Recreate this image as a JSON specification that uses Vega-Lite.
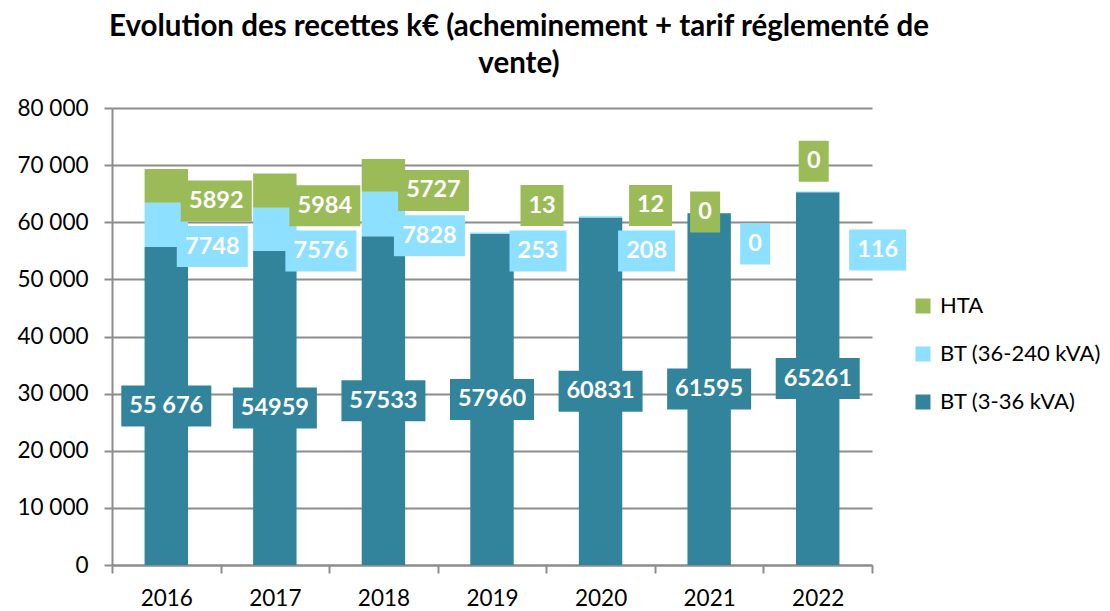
{
  "$schema": "https://vega.github.io/schema/vega-lite/v6.json",
  "autosize": {"type": "none"},
  "width": 760,
  "height": 457,
  "padding": {"left": 112, "top": 108, "right": 238, "bottom": 46},
  "background": "white",
  "title": {
    "text": ["Evolution des recettes k€ (acheminement + tarif réglementé de", "vente)"],
    "font": "Lato",
    "fontSize": 29.5,
    "fontWeight": "bold",
    "color": "#000000",
    "lineHeight": 37,
    "anchor": "middle",
    "dx": 27,
    "offset": 18
  },
  "config": {
    "view": {"stroke": null},
    "font": "Lato"
  },
  "data": {
    "values": [
      {"year": "2016", "series": "BT (3-36 kVA)", "value": 55676, "label": "55 676"},
      {"year": "2016", "series": "BT (36-240 kVA)", "value": 7748, "label": "7748"},
      {"year": "2016", "series": "HTA", "value": 5892, "label": "5892"},
      {"year": "2017", "series": "BT (3-36 kVA)", "value": 54959, "label": "54959"},
      {"year": "2017", "series": "BT (36-240 kVA)", "value": 7576, "label": "7576"},
      {"year": "2017", "series": "HTA", "value": 5984, "label": "5984"},
      {"year": "2018", "series": "BT (3-36 kVA)", "value": 57533, "label": "57533"},
      {"year": "2018", "series": "BT (36-240 kVA)", "value": 7828, "label": "7828"},
      {"year": "2018", "series": "HTA", "value": 5727, "label": "5727"},
      {"year": "2019", "series": "BT (3-36 kVA)", "value": 57960, "label": "57960"},
      {"year": "2019", "series": "BT (36-240 kVA)", "value": 253, "label": "253"},
      {"year": "2019", "series": "HTA", "value": 13, "label": "13"},
      {"year": "2020", "series": "BT (3-36 kVA)", "value": 60831, "label": "60831"},
      {"year": "2020", "series": "BT (36-240 kVA)", "value": 208, "label": "208"},
      {"year": "2020", "series": "HTA", "value": 12, "label": "12"},
      {"year": "2021", "series": "BT (3-36 kVA)", "value": 61595, "label": "61595"},
      {"year": "2021", "series": "BT (36-240 kVA)", "value": 0, "label": "0"},
      {"year": "2021", "series": "HTA", "value": 0, "label": "0"},
      {"year": "2022", "series": "BT (3-36 kVA)", "value": 65261, "label": "65261"},
      {"year": "2022", "series": "BT (36-240 kVA)", "value": 116, "label": "116"},
      {"year": "2022", "series": "HTA", "value": 0, "label": "0"}
    ]
  },
  "transform": [
    {"calculate": "datum.series == 'BT (3-36 kVA)' ? 0 : datum.series == 'BT (36-240 kVA)' ? 1 : 2", "as": "stackOrder"},
    {"calculate": "toNumber(datum.year)", "as": "yr"}
  ],
  "encoding": {
    "x": {
      "field": "year",
      "type": "ordinal",
      "scale": {"paddingInner": 0, "paddingOuter": 0},
      "axis": {
        "title": null,
        "labelAngle": 0,
        "labelFont": "Lato",
        "labelFontSize": 22.5,
        "labelColor": "#000000",
        "labelPadding": 14,
        "tickBand": "extent",
        "tickSize": 8,
        "tickColor": "#8c8c8c",
        "tickWidth": 2,
        "domainColor": "#8c8c8c",
        "domainWidth": 2
      }
    }
  },
  "layer": [
    {
      "mark": {"type": "bar", "width": {"band": 0.4}},
      "encoding": {
        "y": {
          "field": "value",
          "type": "quantitative",
          "stack": "zero",
          "scale": {"domain": [0, 80000]},
          "axis": {
            "title": null,
            "values": [0, 10000, 20000, 30000, 40000, 50000, 60000, 70000, 80000],
            "labelExpr": "replace(format(datum.value, ','), ',', ' ')",
            "labelFont": "Lato",
            "labelFontSize": 22.5,
            "labelColor": "#000000",
            "labelPadding": 16,
            "grid": true,
            "gridColor": "#8c8c8c",
            "gridWidth": 2,
            "tickSize": 8,
            "tickColor": "#8c8c8c",
            "tickWidth": 2,
            "domainColor": "#8c8c8c",
            "domainWidth": 2
          }
        },
        "color": {
          "field": "series",
          "type": "nominal",
          "scale": {
            "domain": ["HTA", "BT (36-240 kVA)", "BT (3-36 kVA)"],
            "range": ["#9BBB59", "#8DE0FF", "#31849B"]
          },
          "legend": {
            "title": null,
            "orient": "none",
            "legendX": 800,
            "legendY": 187,
            "symbolType": "square",
            "symbolSize": 225,
            "symbolStrokeWidth": 0,
            "labelFont": "Lato",
            "labelFontSize": 22,
            "labelColor": "#000000",
            "labelOffset": 6,
            "labelLimit": 400,
            "rowPadding": 26
          }
        },
        "order": {"field": "stackOrder", "type": "quantitative"}
      }
    },
    {
      "transform": [
        {"stack": "value", "groupby": ["year"], "sort": [{"field": "stackOrder", "order": "ascending"}], "as": ["v0", "v1"]},
        {"calculate": "(datum.v0 + datum.v1) / 2", "as": "mid"},
        {"calculate": "datum.series == 'BT (3-36 kVA)' ? datum.mid : datum.series == 'HTA' ? (datum.yr <= 2018 ? datum.mid - 2650 : datum.yr == 2019 ? datum.v1 + 4700 : datum.yr == 2020 ? datum.v1 + 1900 : datum.yr == 2021 ? datum.v1 + 200 : datum.v1 + 5300) : (datum.yr <= 2018 ? datum.mid - 3800 : datum.yr == 2019 ? datum.v1 - 3250 : datum.yr == 2020 ? datum.v1 - 6080 : datum.yr == 2021 ? datum.v1 - 5400 : datum.v1 - 10240)", "as": "ly"},
        {"calculate": "datum.series == 'BT (3-36 kVA)' ? 'A' : datum.series == 'HTA' ? (datum.yr >= 2021 ? 'C' : 'B') : (datum.yr == 2022 ? 'E' : 'D')", "as": "grp"},
        {"calculate": "length(datum.label)", "as": "nchar"}
      ],
      "encoding": {
        "y": {"field": "ly", "type": "quantitative"},
        "fill": {
          "field": "series",
          "type": "nominal",
          "scale": {
            "domain": ["HTA", "BT (36-240 kVA)", "BT (3-36 kVA)"],
            "range": ["#9BBB59", "#8DE0FF", "#31849B"]
          },
          "legend": null
        },
        "shape": {
          "field": "nchar",
          "type": "nominal",
          "scale": {
            "domain": [1, 2, 3, 4, 5, 6],
            "range": [
              "M-0.3,-0.41H0.3V0.41H-0.3Z",
              "M-0.43,-0.41H0.43V0.41H-0.43Z",
              "M-0.57,-0.41H0.57V0.41H-0.57Z",
              "M-0.71,-0.41H0.71V0.41H-0.71Z",
              "M-0.84,-0.41H0.84V0.41H-0.84Z",
              "M-0.9,-0.41H0.9V0.41H-0.9Z"
            ]
          },
          "legend": null
        }
      },
      "layer": [
        {"transform": [{"filter": "datum.grp == 'A'"}], "mark": {"type": "point", "filled": true, "opacity": 1, "strokeWidth": 0, "size": 10000, "xOffset": 0}},
        {"transform": [{"filter": "datum.grp == 'A'"}], "mark": {"type": "text", "font": "Lato", "fontSize": 23.5, "fontWeight": "bold", "align": "center", "baseline": "middle", "xOffset": 0}, "encoding": {"fill": {"value": "#ffffff"}, "text": {"field": "label", "type": "nominal"}}},
        {"transform": [{"filter": "datum.grp == 'B'"}], "mark": {"type": "point", "filled": true, "opacity": 1, "strokeWidth": 0, "size": 10000, "xOffset": 50}},
        {"transform": [{"filter": "datum.grp == 'B'"}], "mark": {"type": "text", "font": "Lato", "fontSize": 23.5, "fontWeight": "bold", "align": "center", "baseline": "middle", "xOffset": 50}, "encoding": {"fill": {"value": "#ffffff"}, "text": {"field": "label", "type": "nominal"}}},
        {"transform": [{"filter": "datum.grp == 'C'"}], "mark": {"type": "point", "filled": true, "opacity": 1, "strokeWidth": 0, "size": 10000, "xOffset": -4}},
        {"transform": [{"filter": "datum.grp == 'C'"}], "mark": {"type": "text", "font": "Lato", "fontSize": 23.5, "fontWeight": "bold", "align": "center", "baseline": "middle", "xOffset": -4}, "encoding": {"fill": {"value": "#ffffff"}, "text": {"field": "label", "type": "nominal"}}},
        {"transform": [{"filter": "datum.grp == 'D'"}], "mark": {"type": "point", "filled": true, "opacity": 1, "strokeWidth": 0, "size": 10000, "xOffset": 46}},
        {"transform": [{"filter": "datum.grp == 'D'"}], "mark": {"type": "text", "font": "Lato", "fontSize": 23.5, "fontWeight": "bold", "align": "center", "baseline": "middle", "xOffset": 46}, "encoding": {"fill": {"value": "#ffffff"}, "text": {"field": "label", "type": "nominal"}}},
        {"transform": [{"filter": "datum.grp == 'E'"}], "mark": {"type": "point", "filled": true, "opacity": 1, "strokeWidth": 0, "size": 10000, "xOffset": 60}},
        {"transform": [{"filter": "datum.grp == 'E'"}], "mark": {"type": "text", "font": "Lato", "fontSize": 23.5, "fontWeight": "bold", "align": "center", "baseline": "middle", "xOffset": 60}, "encoding": {"fill": {"value": "#ffffff"}, "text": {"field": "label", "type": "nominal"}}}
      ]
    }
  ]
}
